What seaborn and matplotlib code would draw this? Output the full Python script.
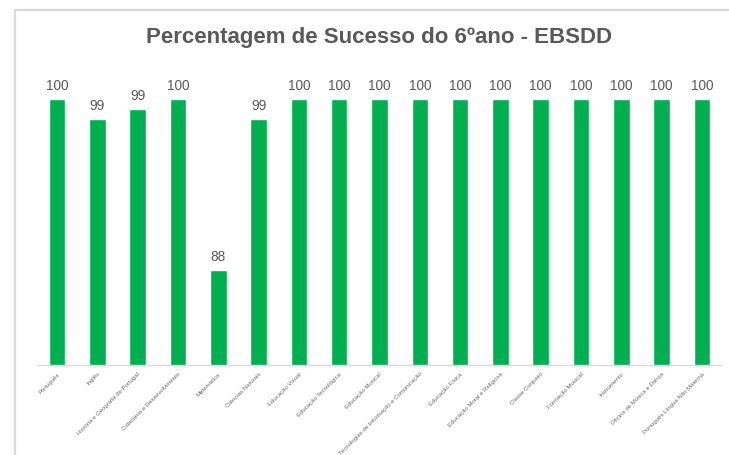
import matplotlib
matplotlib.use("Agg")
import matplotlib.pyplot as plt
import seaborn as sns
import pandas as pd
from matplotlib.lines import Line2D

disciplinas = [
    "Português", "Inglês", "História e Geografia de Portugal",
    "Cidadania e Desenvolvimento", "Matemática", "Ciências Naturais",
    "Educação Visual", "Educação Tecnológica", "Educação Musical",
    "Tecnologias de Informação e Comunicação", "Educação Física",
    "Educação Moral e Religiosa", "Classe Conjunto", "Formação Musical",
    "Instrumento", "Oficina de Música e Dança", "Português Língua Não Materna",
]
sucesso = [100, 98.6, 99.3, 100, 88.4, 98.6, 100, 100, 100, 100, 100, 100,
           100, 100, 100, 100, 100]
rotulos = ["100", "99", "99", "100", "88", "99", "100", "100", "100", "100",
           "100", "100", "100", "100", "100", "100", "100"]

df = pd.DataFrame({"disciplina": disciplinas, "sucesso": sucesso})

sns.set_theme(style="white")
plt.rcParams['font.family'] = ['Liberation Sans', 'DejaVu Sans']

W, H = 729, 456
fig = plt.figure(figsize=(W / 100, H / 100), dpi=100)
ax = fig.add_axes([37 / W, 1 - 366 / H, (722 - 37) / W, (366 - 70) / H])

sns.barplot(data=df, x="disciplina", y="sucesso", color="#00B050",
            saturation=1, width=0.41, ax=ax)

ax.set_ylim(82, 102)
ax.set_xlim(-0.5, len(disciplinas) - 0.5)
ax.set_xlabel("")
ax.set_ylabel("")
ax.set_yticks([])
for s in ["top", "right", "left"]:
    ax.spines[s].set_visible(False)
ax.spines["bottom"].set_color("#d9d9d9")
ax.spines["bottom"].set_linewidth(1.0)

ax.set_xticks(range(len(disciplinas)))
ax.set_xticklabels(disciplinas, rotation=45, ha="right", rotation_mode="anchor",
                   fontsize=4.3, color="#6a6a6a")
ax.tick_params(axis="x", length=0, pad=4)

for p, lab in zip(ax.patches, rotulos):
    ax.annotate(lab, (p.get_x() + p.get_width() / 2, p.get_height()),
                xytext=(0, 5), textcoords="offset points",
                ha="center", va="bottom", fontsize=9.8, color="#595959")

fig.text(379 / W, 1 - 37 / H, "Percentagem de Sucesso do 6ºano - EBSDD",
         ha="center", va="center", fontsize=16, fontweight="bold",
         color="#595959")

# outer frame lines (top and left)
fig.add_artist(Line2D([14.5 / W, 14.5 / W], [0, 1 - 10.5 / H],
                      transform=fig.transFigure, color="#d9d9d9", lw=1.6))
fig.add_artist(Line2D([14.5 / W, 1], [1 - 10.5 / H, 1 - 10.5 / H],
                      transform=fig.transFigure, color="#d9d9d9", lw=1.6))

fig.savefig("out.png", dpi=100)
